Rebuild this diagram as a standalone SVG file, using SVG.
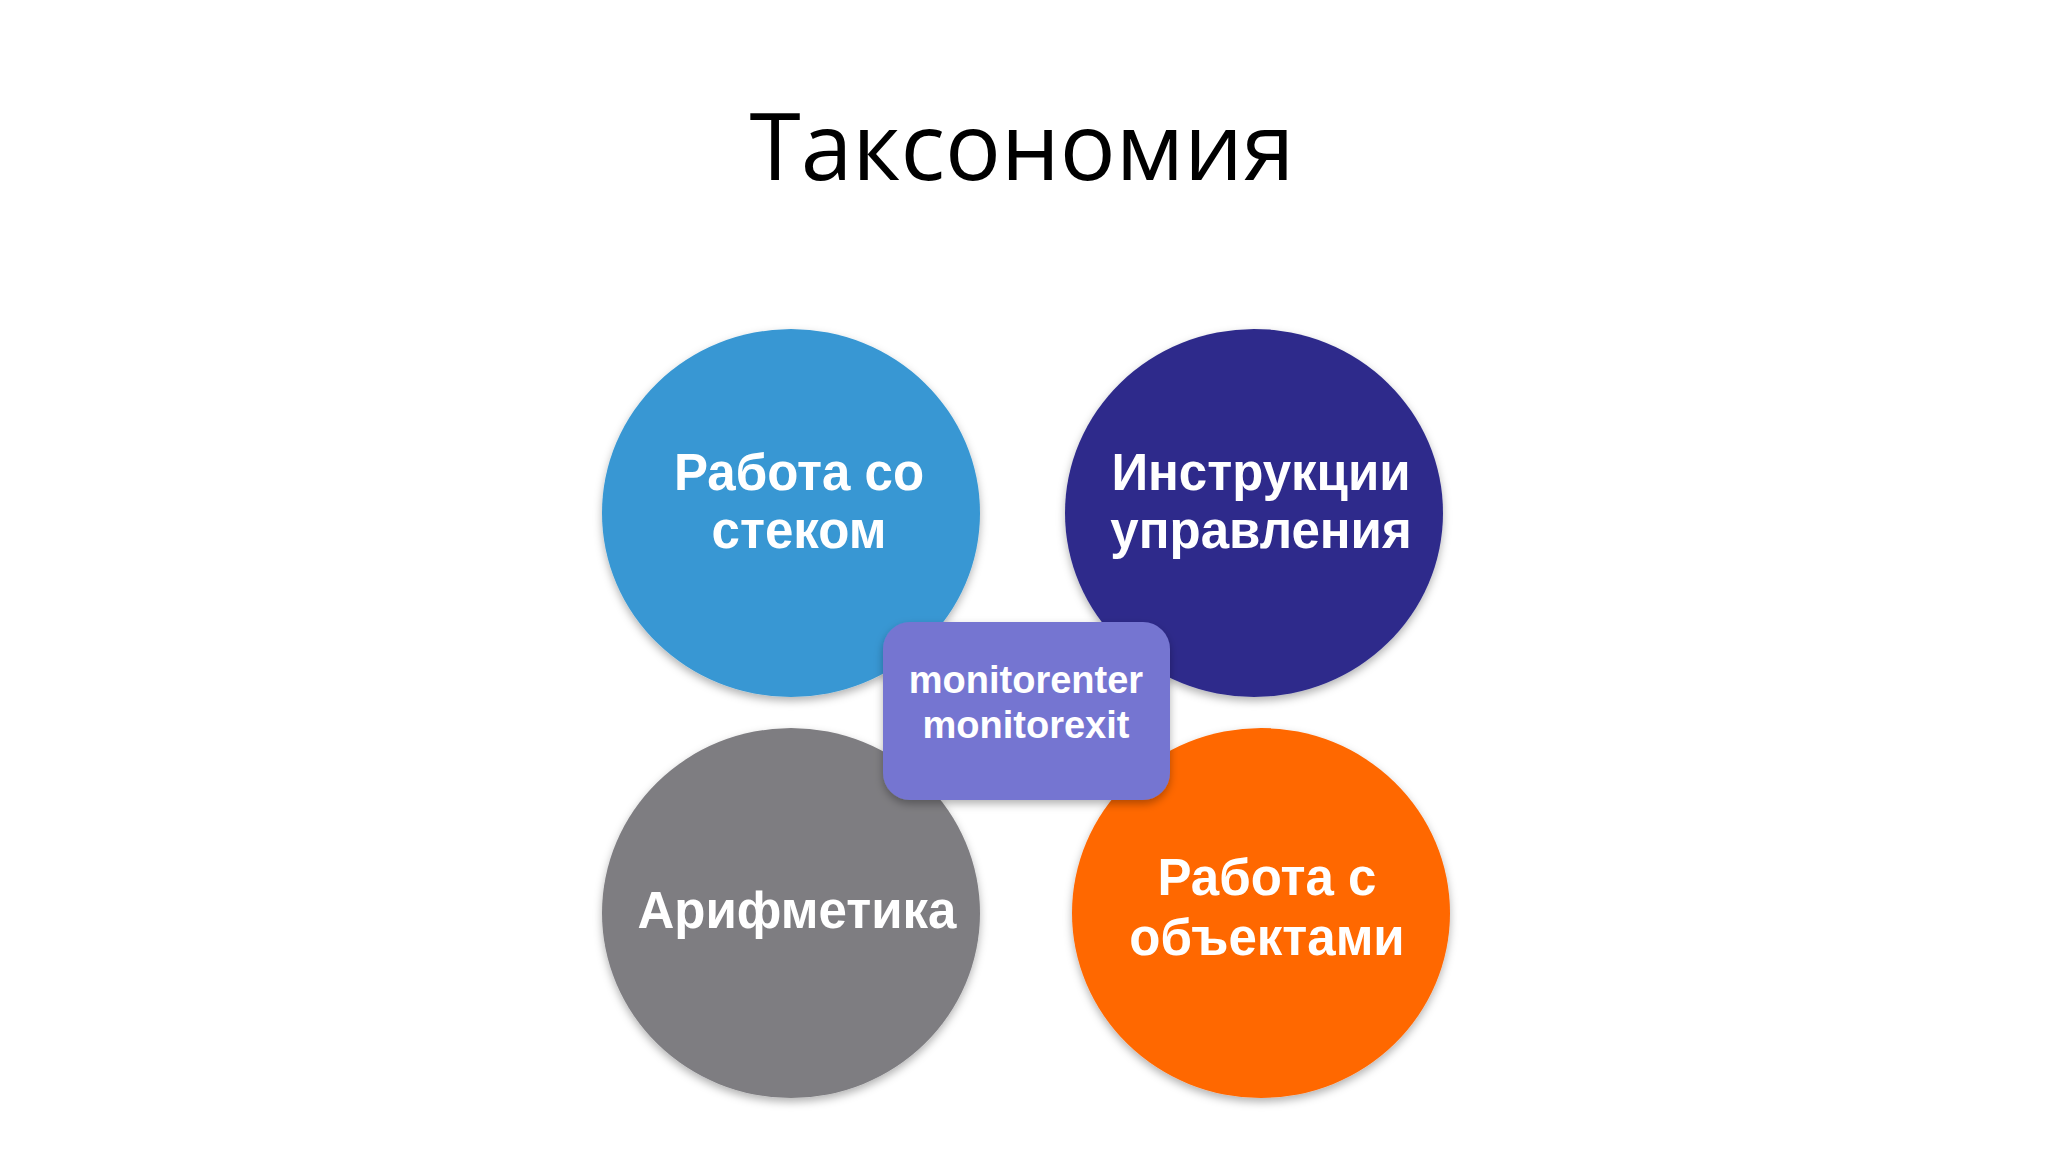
<svg xmlns="http://www.w3.org/2000/svg" width="2048" height="1152" viewBox="0 0 2048 1152">
  <defs>
    <filter id="sh" x="-20%" y="-20%" width="140%" height="140%">
      <feDropShadow dx="0" dy="4" stdDeviation="4" flood-color="#000" flood-opacity="0.3"/>
    </filter>
    <style>
      .title { font-family: "Open Sans", "Liberation Sans", sans-serif; font-size: 93px; fill: #000; text-anchor: middle; }
      .lbl { font-family: "Liberation Sans", Arial, sans-serif; font-weight: bold; font-size: 51px; fill: #fff; text-anchor: middle; }
      .box { font-family: "Liberation Sans", Arial, sans-serif; font-weight: bold; font-size: 38px; fill: #fff; text-anchor: middle; }
      .node { filter: url(#sh); }
    </style>
  </defs>
  <rect width="2048" height="1152" fill="#fff"/>
  <text class="title" x="1022" y="180">Таксономия</text>

  <g id="connectors"></g>

  <g id="node-stack">
    <ellipse class="node" cx="791" cy="513" rx="189" ry="184" fill="#3797D3"/>
    <text class="lbl" x="799" y="490">Работа со</text>
    <text class="lbl" x="799" y="548">стеком</text>
  </g>
  <g id="node-control">
    <ellipse class="node" cx="1254" cy="513" rx="189" ry="184" fill="#2E2C8B"/>
    <text class="lbl" x="1261" y="490">Инструкции</text>
    <text class="lbl" x="1261" y="548">управления</text>
  </g>
  <g id="node-arith">
    <ellipse class="node" cx="791" cy="913" rx="189" ry="185" fill="#7E7D81"/>
    <text class="lbl" x="797" y="928">Арифметика</text>
  </g>
  <g id="node-objects">
    <ellipse class="node" cx="1261" cy="913" rx="189" ry="185" fill="#FF6701"/>
    <text class="lbl" x="1267" y="895">Работа с</text>
    <text class="lbl" x="1267" y="955">объектами</text>
  </g>
  <g id="node-monitor">
    <rect class="node" x="883" y="622" width="287" height="178" rx="27" fill="#7575D1"/>
    <text class="box" x="1026" y="693">monitorenter</text>
    <text class="box" x="1026" y="738">monitorexit</text>
  </g>
</svg>
